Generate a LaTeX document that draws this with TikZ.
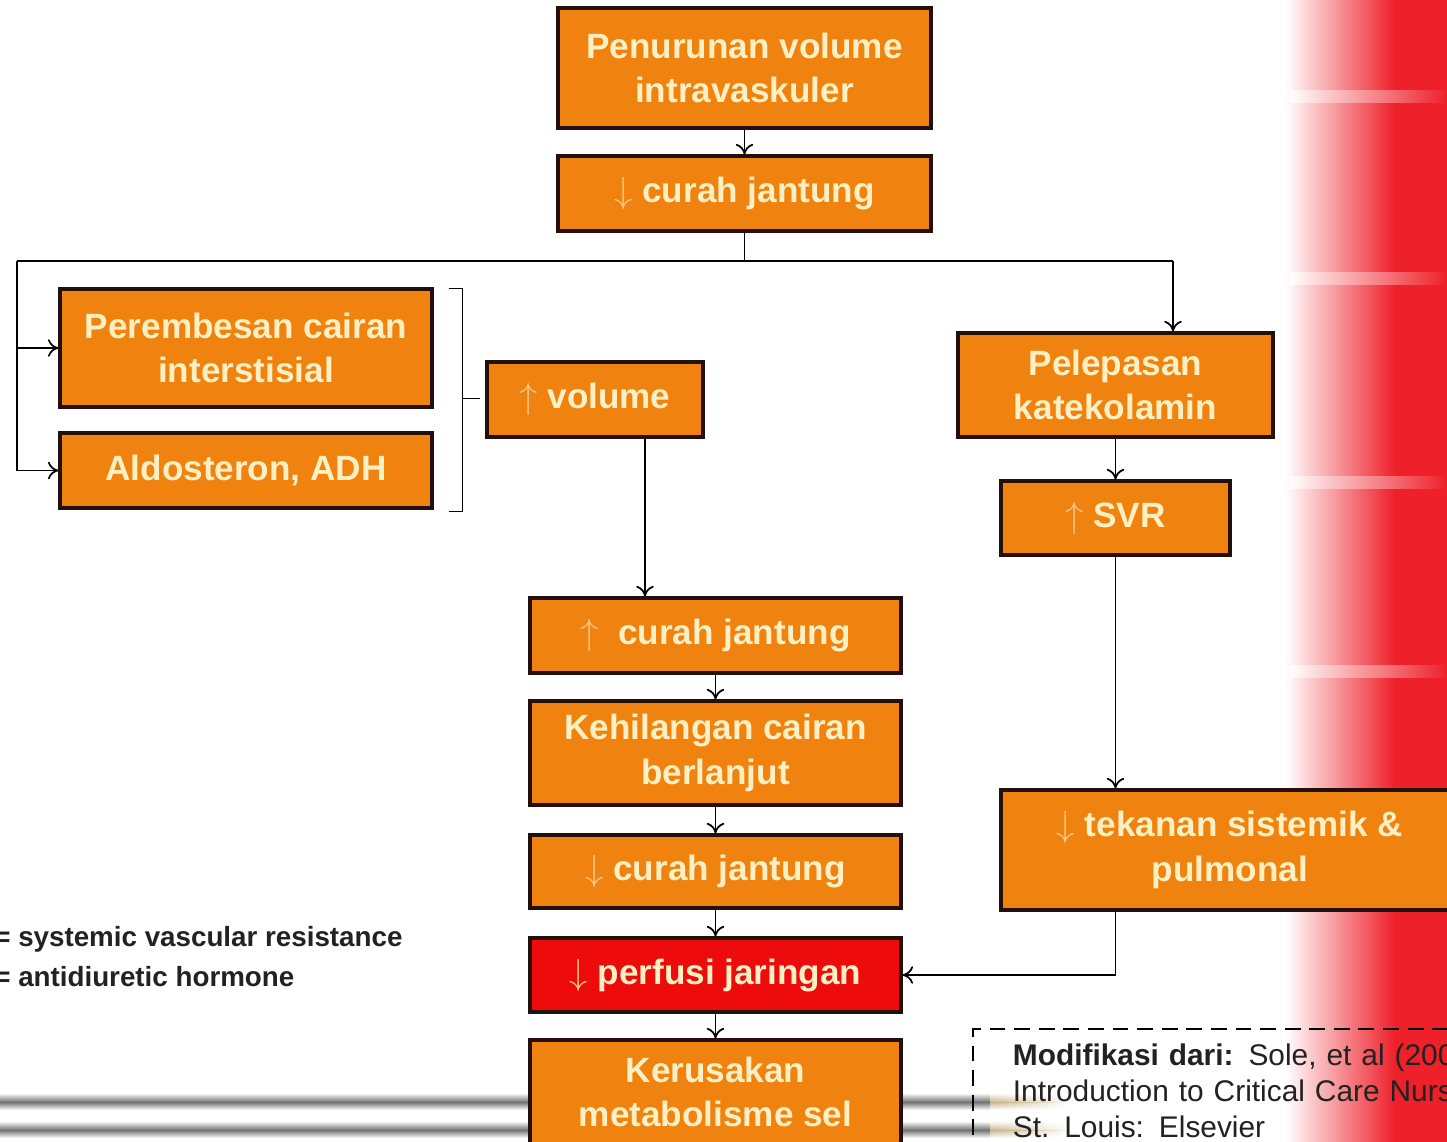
\documentclass[tikz,border=0pt]{standalone}
\usepackage{fontspec}
\setmainfont{Liberation Sans}
\usetikzlibrary{arrows.meta,positioning,calc,fadings}

\definecolor{boxorange}{HTML}{F0820F}
\definecolor{boxred}{HTML}{EE0B0B}
\definecolor{boxtext}{HTML}{FFF0C4}
\definecolor{boxline}{HTML}{24100A}
\definecolor{bgred}{HTML}{EE2029}
\definecolor{notegray}{HTML}{222222}
\definecolor{bartan}{HTML}{C8B48C}

\newcommand{\upa}{{\color{boxtext!65!boxorange}$\uparrow$}}
\newcommand{\dna}{{\color{boxtext!65!boxorange}$\downarrow$}}

\tikzset{
  flowbox/.style={draw=boxline, line width=1.8pt, fill=boxorange, text=boxtext,
    font=\fontsize{20}{25.5}\selectfont\bfseries, align=center, inner sep=0pt},
  alarmbox/.style={flowbox, fill=boxred},
  wire/.style={line width=1pt, draw=black},
  link/.style={wire, -{To[length=6pt,width=10pt]}},
  note/.style={text=notegray, font=\fontsize{15.8}{18}\selectfont\bfseries, inner sep=0pt},
  citebox/.style={draw=black, line width=1pt, dash pattern=on 9pt off 5pt, text=notegray,
    font=\fontsize{17}{20.5}\selectfont, align=left, text width=12cm,
    inner xsep=0.8cm, inner ysep=0.3cm},
}

\begin{document}
\begin{tikzpicture}[x=0.02cm, y=-0.02cm]
  \useasboundingbox (0,0) rectangle (1447,1142);
  \clip (0,0) rectangle (1447,1142);

  % background: red edge on the right, grey bars at the bottom
  \shade[left color=white, right color=bgred] (1285,0) rectangle (1395,1142);
  \fill[bgred] (1395,0) rectangle (1447,1142);
  \foreach \y in {97,279,482,671}
    \shade[left color=white, right color=bgred] (1290,\y-6) rectangle (1447,\y+6);
  \foreach \y in {1102,1130} {
    \shade[top color=white, bottom color=black!55] (0,\y-9) rectangle (990,\y);
    \shade[top color=black!55, bottom color=white] (0,\y) rectangle (990,\y+8);
    \shade[top color=white, bottom color=bartan, path fading=east] (990,\y-9) rectangle (1070,\y);
    \shade[top color=bartan, bottom color=white, path fading=east] (990,\y) rectangle (1070,\y+8);
  }

  % boxes
  \node[flowbox, minimum width=7.46cm, minimum height=2.4cm] (top) at (744.5,68) {Penurunan volume\\intravaskuler};
  \node[flowbox, minimum width=7.46cm, minimum height=1.5cm] (cd1) at (744.5,193.5) {\dna\ curah jantung};
  \node[flowbox, minimum width=7.44cm, minimum height=2.36cm] (perem) at (246,348) {Perembesan cairan\\interstisial};
  \node[flowbox, minimum width=7.44cm, minimum height=1.5cm] (aldo) at (246,470.5) {Aldosteron, ADH};
  \node[flowbox, minimum width=4.32cm, minimum height=1.5cm] (vol) at (595,399.5) {\upa\ volume};
  \node[flowbox, minimum width=6.3cm, minimum height=2.08cm] (kat) at (1115.5,385) {Pelepasan\\katekolamin};
  \node[flowbox, minimum width=4.58cm, minimum height=1.48cm] (svr) at (1115.5,518) {\upa\ SVR};
  \node[flowbox, minimum width=9.16cm, minimum height=2.4cm] (tek) at (1230,850) {\dna\ tekanan sistemik \&\\pulmonal};
  \node[flowbox, minimum width=7.42cm, minimum height=1.5cm] (cu1) at (715.5,635.5) {\upa\ \ curah jantung};
  \node[flowbox, minimum width=7.42cm, minimum height=2.08cm] (lose) at (715.5,753) {Kehilangan cairan\\berlanjut};
  \node[flowbox, minimum width=7.42cm, minimum height=1.46cm] (cd2) at (715.5,871.5) {\dna\ curah jantung};
  \node[alarmbox, minimum width=7.42cm, minimum height=1.48cm] (perf) at (715.5,975) {\dna\ perfusi jaringan};
  \node[flowbox, minimum width=7.42cm, minimum height=2.08cm] (kerus) at (715.5,1092) {Kerusakan\\metabolisme sel};

  % notes
  \node[note, anchor=base west] (svrnote) at (-6,946) {= systemic vascular resistance};
  \node[note, anchor=base west] (adhnote) at (-6,986) {= antidiuretic hormone};
  \node[citebox, anchor=north west] (cite) at (972,1028)
    {\textbf{Modifikasi dari:} Sole, et al (2009)\\Introduction to Critical Care Nursing\\St. Louis: Elsevier};

  % connectors
  \coordinate (lsplit) at (17,261);
  \coordinate (rsplit) at (1173,261);
  \draw[link] (top) -- (cd1);
  \draw[wire] (cd1.south) -- (cd1.south |- lsplit);
  \draw[wire] (lsplit) -- (rsplit);
  \draw[link] (rsplit) -- (rsplit |- kat.north);
  \draw[link] (lsplit) |- (perem.west);
  \draw[link] (lsplit) |- (aldo.west);

  \draw[wire] ($(perem.north east)+(15,1)$) -| ($(aldo.south east)+(29,2)$) -- ($(aldo.south east)+(15,2)$);
  \coordinate (brk) at ($(perem.north east)+(29,111)$);
  \draw[wire] (brk) -- ++(17,0);

  \coordinate (volout) at ($(vol.south)+(50,0)$);
  \draw[link] (volout) -- (volout |- cu1.north);
  \draw[link] (cu1) -- (lose);
  \draw[link] (lose) -- (cd2);
  \draw[link] (cd2) -- (perf);
  \draw[link] (perf) -- (kerus);

  \draw[link] (kat) -- (svr);
  \draw[link] (svr) -- (svr |- tek.north);
  \draw[link] (svr.south |- tek.south) |- (perf.east);
\end{tikzpicture}
\end{document}
